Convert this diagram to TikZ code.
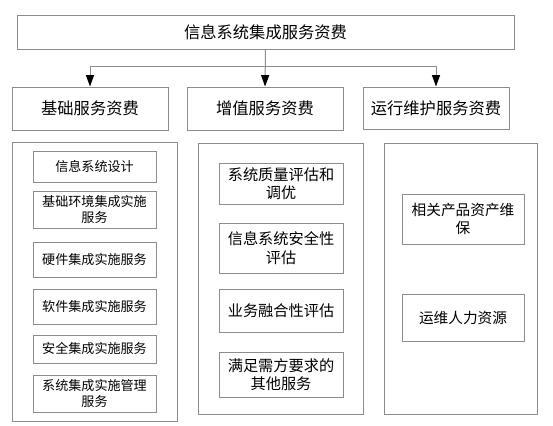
\documentclass[tikz,border=0pt]{standalone}
\usepackage{fontspec}
\newfontfamily\cjk{Noto Sans CJK SC}
\usetikzlibrary{fit,arrows.meta}
\definecolor{linegray}{RGB}{140,140,140}
\begin{document}
\begin{tikzpicture}[x=0.75pt,y=-0.75pt,
  box/.style={draw=linegray, line width=0.75pt, inner sep=0pt},
  txt/.style={inner sep=0pt, align=center},
  fbig/.style={txt, font=\cjk\fontsize{12.2}{14}\selectfont},
  fsmall/.style={txt, font=\cjk\fontsize{9.8}{12.4}\selectfont},
  fmid/.style={txt, font=\cjk\fontsize{11.4}{13.8}\selectfont},
  fright/.style={txt, font=\cjk\fontsize{11}{13.6}\selectfont},
  conn/.style={draw=linegray, line width=0.75pt},
  arr/.style={-{Triangle[black, length=8.5pt, width=6pt]}}]
\useasboundingbox (0,0) rectangle (553,425);
% top
\node[box, fit={(17,15) (514,49)}] (top) {};
\node[fbig] (top-t) at (top.center) {信息系统集成服务资费};
% second row
\node[box, fit={(12,87) (168,130)}] (b1) {};
\node[fbig] (b1-t) at (b1.center) {基础服务资费};
\node[box, fit={(187,87) (343,130)}] (b2) {};
\node[fbig] (b2-t) at (b2.center) {增值服务资费};
\node[box, fit={(363,87) (509,129)}] (b3) {};
\node[fbig] (b3-t) at (b3.center) {运行维护服务资费};
% containers
\node[box, fit={(12,142) (177,421)}] (c1) {};
\node[box, fit={(198,143) (363,414)}] (c2) {};
\node[box, fit={(384,143) (537,414)}] (c3) {};
% left column
\node[box, fit={(33,151) (156,182)}] (l1) {};
\node[fsmall] (l1-t) at (l1.center) {信息系统设计};
\node[box, fit={(33,191) (156,228)}] (l2) {};
\node[fsmall] (l2-t) at (l2.center) {基础环境集成实施\\服务};
\node[box, fit={(33,242) (156,277)}] (l3) {};
\node[fsmall] (l3-t) at (l3.center) {硬件集成实施服务};
\node[box, fit={(33,289) (156,324)}] (l4) {};
\node[fsmall] (l4-t) at (l4.center) {软件集成实施服务};
\node[box, fit={(33,335) (156,363)}] (l5) {};
\node[fsmall] (l5-t) at (l5.center) {安全集成实施服务};
\node[box, fit={(33,375) (156,412)}] (l6) {};
\node[fsmall] (l6-t) at (l6.center) {系统集成实施管理\\服务};
% middle column
\node[box, fit={(219,163) (343,204)}] (m1) {};
\node[fmid] (m1-t) at (m1.center) {系统质量评估和\\调优};
\node[box, fit={(219,223) (343,273)}] (m2) {};
\node[fmid] (m2-t) at (m2.center) {信息系统安全性\\评估};
\node[box, fit={(219,289) (343,332)}] (m3) {};
\node[fmid] (m3-t) at (m3.center) {业务融合性评估};
\node[box, fit={(219,352) (343,397)}] (m4) {};
\node[fmid] (m4-t) at (m4.center) {满足需方要求的\\其他服务};
% right column
\node[box, fit={(402,194) (524,244)}] (r1) {};
\node[fright] (r1-t) at (r1.center) {相关产品资产维\\保};
\node[box, fit={(402,294) (524,341)}] (r2) {};
\node[fright] (r2-t) at (r2.center) {运维人力资源};
% connectors
\coordinate (bus) at (0,66);
\draw[conn, arr] (top.south) -- (b2.north);
\draw[conn] (b1.north |- bus) -- (b3.north |- bus);
\draw[conn, arr] (b1.north |- bus) -- (b1.north);
\draw[conn, arr] (b3.north |- bus) -- (b3.north);
\end{tikzpicture}
\end{document}
